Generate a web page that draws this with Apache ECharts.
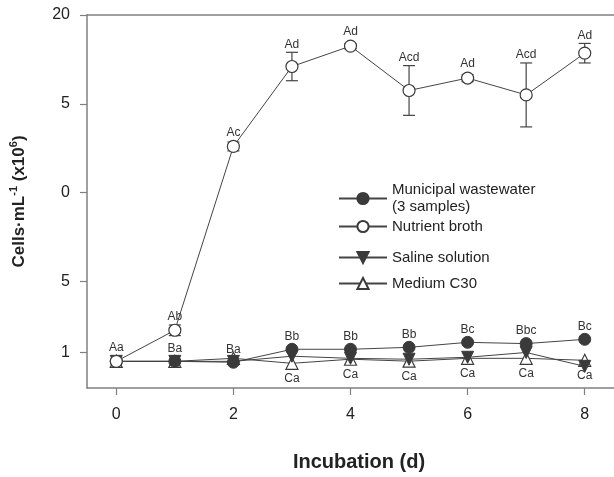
<!DOCTYPE html>
<html><head><meta charset="utf-8">
<script src="https://cdn.jsdelivr.net/npm/echarts@6/dist/echarts.min.js"></script>
<style>html,body{margin:0;padding:0;background:#fff}#c{width:614px;height:477px}</style>
</head><body><div id="c"></div>
<script>
var days = [0,1,2,3,4,5,6,7,8];
var municipal = [0.5,0.5,0.45,1.18,1.18,1.29,1.57,1.5,1.74];
var nutrient = [0.5,2.25,12.6,17.1,18.25,15.75,16.45,15.5,17.85];
var nutrientErr = [0,0.3,0.25,0.8,0.15,1.4,0.2,1.8,0.55];
var saline = [0.5,0.5,0.5,0.79,0.67,0.62,0.73,1.0,0.22];
var c30 = [0.5,0.5,0.67,0.39,0.62,0.51,0.67,0.67,0.56];
var nutrientLabels = ['Aa','Ab','Ac','Ad','Ad','Acd','Ad','Acd','Ad'];
var municipalLabels = ['','Ba','Ba','Bb','Bb','Bb','Bc','Bbc','Bc'];
var c30Labels = ['','','','Ca','Ca','Ca','Ca','Ca','Ca'];
var yTickValues = [1,5,10,15,20];
var yTickLabels = ['1','5','0','5','20'];
var xTickValues = [0,2,4,6,8];
var names = ['Municipal wastewater\n(3 samples)','Nutrient broth','Saline solution','Medium C30'];

var FONT = '"Liberation Sans", Arial, sans-serif';
var AX = '#808080', LN = '#444', DK = '#3a3a3a';
function pairs(arr){ return days.map(function(d,i){ return [d, arr[i]]; }); }

var chart = echarts.init(document.getElementById('c'));
var lbl = {show:true, fontFamily:FONT, fontSize:12, color:'#333'};
chart.setOption({
  animation:false,
  textStyle:{fontFamily:FONT},
  grid:{left:85, right:0, top:15, bottom:89},
  xAxis:[{
    type:'value', min:-0.5, max:8.5,
    axisLine:{show:true, onZero:false, lineStyle:{color:AX, width:1.5}},
    axisTick:{show:true, length:7, customValues:xTickValues, lineStyle:{color:AX, width:1.2}},
    axisLabel:{customValues:xTickValues, margin:19, fontSize:16, color:'#222', fontFamily:FONT},
    splitLine:{show:false},
    name:'Incubation (d)', nameLocation:'middle', nameGap:64,
    nameTextStyle:{fontSize:20, fontWeight:'bold', color:'#222', fontFamily:FONT, padding:[0,0,0,17]}
  },{
    type:'value', position:'top', min:-0.5, max:8.5,
    axisLine:{show:true, onZero:false, lineStyle:{color:AX, width:1.5}},
    axisTick:{show:false}, axisLabel:{show:false}, splitLine:{show:false}
  }],
  yAxis:{
    type:'value', min:-1, max:20,
    axisLine:{show:true, onZero:false, lineStyle:{color:AX, width:1.5}},
    axisTick:{show:true, length:7, customValues:yTickValues, lineStyle:{color:AX, width:1.2}},
    axisLabel:{customValues:yTickValues, margin:17, fontSize:16, color:'#222', fontFamily:FONT,
      formatter:function(v){ var i=yTickValues.indexOf(v); return i>=0?yTickLabels[i]:''; }},
    splitLine:{show:false},
    name:'{a|Cells·mL}{s|-1}{a| (x10}{s|6}{a|)}', nameLocation:'middle', nameGap:57, nameRotate:90,
    nameTextStyle:{rich:{
      a:{fontSize:17, fontWeight:'bold', color:'#222', fontFamily:FONT, lineHeight:22},
      s:{fontSize:11, fontWeight:'bold', color:'#222', fontFamily:FONT, verticalAlign:'top', lineHeight:22, padding:[0,0,8,0]}
    }}
  },
  legend:[0,1,2,3].map(function(i){
    var tops=[168,213,244,270];
    return {data:[names[i]], left:333, top:tops[i], itemWidth:48, itemHeight:14, orient:'vertical',
      selectedMode:false, itemGap:5,
      textStyle:{fontSize:15, color:'#222', fontFamily:FONT, lineHeight:17, padding: i===0?[17,0,0,0]:0}};
  }),
  series:[
    {type:'custom', name:'err', z:1, silent:true,
     data: days.map(function(d,i){ return [d, nutrient[i]-nutrientErr[i], nutrient[i]+nutrientErr[i], nutrient[i]]; }),
     renderItem:function(params, api){
       var lo=api.coord([api.value(0), api.value(1)]);
       var hi=api.coord([api.value(0), api.value(2)]);
       var md=api.coord([api.value(0), api.value(3)]);
       var x=lo[0], w=6, st={stroke:LN, lineWidth:1.2};
       var ch=[];
       if (api.value(2)>api.value(1)) {
         ch.push({type:'line', shape:{x1:x,y1:lo[1],x2:x,y2:hi[1]}, style:st});
         ch.push({type:'line', shape:{x1:x-w,y1:lo[1],x2:x+w,y2:lo[1]}, style:st});
         ch.push({type:'line', shape:{x1:x-w,y1:hi[1],x2:x+w,y2:hi[1]}, style:st});
       }
       var ty=Math.min(hi[1], md[1]-6)-8;
       ch.push({type:'text', z2:10, style:{text:nutrientLabels[params.dataIndex], x:x, y:ty, align:'center', verticalAlign:'middle',
         fontSize:12, fontFamily:FONT, fill:'#333'}});
       return {type:'group', children:ch};
     }},
    {type:'line', name:names[3], data:pairs(c30), z:3, symbol:'triangle', symbolSize:12,
     lineStyle:{color:LN, width:1}, itemStyle:{color:'#fff', borderColor:DK, borderWidth:1.2},
     label:Object.assign({}, lbl, {position:'bottom', distance:3, formatter:function(p){ return c30Labels[p.dataIndex]; }})},
    {type:'line', name:names[2], data:pairs(saline), z:4, symbol:'triangle', symbolRotate:180, symbolSize:12,
     lineStyle:{color:LN, width:1}, itemStyle:{color:DK, borderColor:DK, borderWidth:1}},
    {type:'line', name:names[0], data:pairs(municipal), z:5, symbol:'circle', symbolSize:12,
     lineStyle:{color:LN, width:1}, itemStyle:{color:DK, borderColor:DK, borderWidth:1},
     label:Object.assign({}, lbl, {position:'top', distance:0, formatter:function(p){ return municipalLabels[p.dataIndex]; }})},
    {type:'line', name:names[1], data:pairs(nutrient), z:6, symbol:'circle', symbolSize:12,
     lineStyle:{color:LN, width:1}, itemStyle:{color:'#fff', borderColor:DK, borderWidth:1.2}}
  ]
});
</script></body></html>
